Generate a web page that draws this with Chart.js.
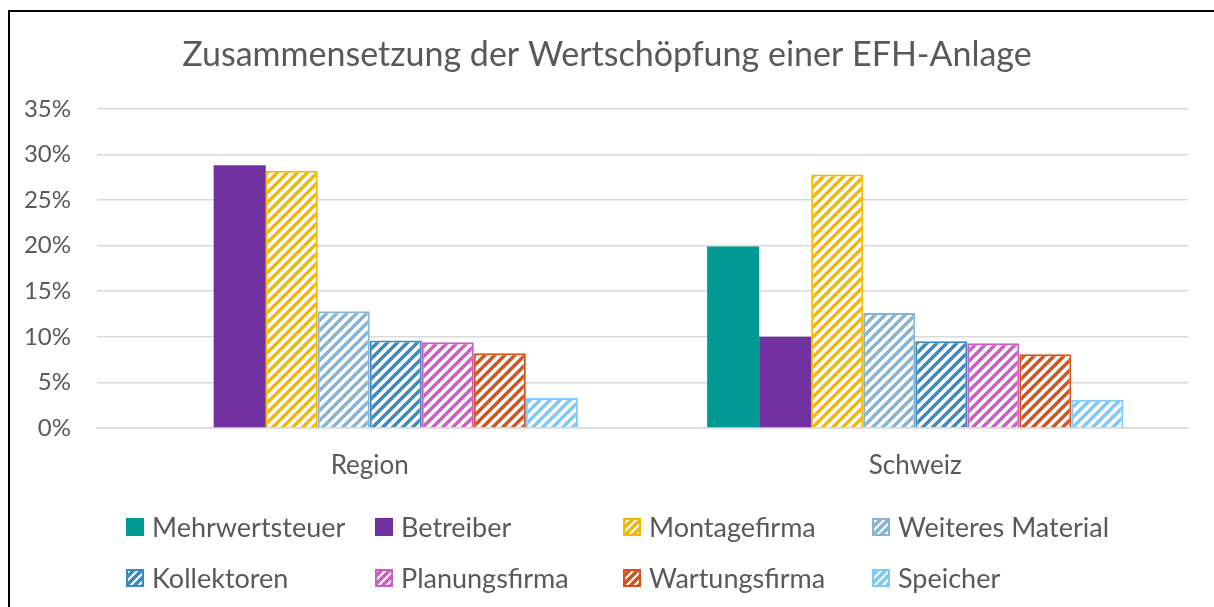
<!DOCTYPE html>
<html><head><meta charset="utf-8">
<script src="https://cdn.jsdelivr.net/npm/chart.js@4.4.1/dist/chart.umd.min.js"></script>
<style>
html,body{margin:0;padding:0;background:#fff;overflow:hidden}
#wrap{position:relative;width:1214px;height:607px;overflow:hidden}
#frame{position:absolute;left:8px;top:10px;width:1400px;height:800px;border-left:2px solid #000;border-top:2px solid #000;pointer-events:none}
canvas{position:absolute;left:0;top:0}
</style></head><body>
<div id="wrap"><canvas id="c" width="1214" height="607"></canvas><div id="frame"></div></div>
<script>
// ---- data ----
const categories = ['Region', 'Schweiz'];
const mehrwertsteuer = [0, 19.9];
const betreiber = [28.8, 10.0];
const montagefirma = [28.2, 27.8];
const weiteresMaterial = [12.8, 12.6];
const kollektoren = [9.6, 9.5];
const planungsfirma = [9.4, 9.3];
const wartungsfirma = [8.2, 8.1];
const speicher = [3.3, 3.1];
const yTickValues = [0, 5, 10, 15, 20, 25, 30, 35];
const titleText = 'Zusammensetzung der Wertschöpfung einer EFH-Anlage';

// ---- styles ----
const FONT = 'Lato';
const TXT = '#595959';
const series = [
  { label: 'Mehrwertsteuer',    data: mehrwertsteuer,   color: '#009994', hatch: false },
  { label: 'Betreiber',         data: betreiber,        color: '#7030A0', hatch: false },
  { label: 'Montagefirma',      data: montagefirma,     color: '#F2B800', hatch: true },
  { label: 'Weiteres Material', data: weiteresMaterial, color: '#86B4D6', hatch: true },
  { label: 'Kollektoren',       data: kollektoren,      color: '#3A89BF', hatch: true },
  { label: 'Planungsfirma',     data: planungsfirma,    color: '#CF5CC6', hatch: true },
  { label: 'Wartungsfirma',     data: wartungsfirma,    color: '#D5531A', hatch: true },
  { label: 'Speicher',          data: speicher,         color: '#7ACAFF', hatch: true }
];

const ctx = document.getElementById('c').getContext('2d');
function hatch(color, s, lw) {
  const c = document.createElement('canvas');
  c.width = c.height = s;
  const g = c.getContext('2d');
  g.fillStyle = '#fff'; g.fillRect(0, 0, s, s);
  g.strokeStyle = color; g.lineWidth = lw; g.lineCap = 'square';
  g.beginPath();
  for (let k = -1; k <= 1; k++) { g.moveTo(k * s, s); g.lineTo(k * s + s, 0); }
  g.stroke();
  return ctx.createPattern(c, 'repeat');
}

const datasets = series.map(s => ({
  label: s.label,
  data: s.data,
  backgroundColor: s.hatch ? hatch(s.color, 10, 3.4) : s.color,
  borderColor: s.color,
  borderWidth: s.hatch ? 2 : 0,
  _legendFill: s.hatch ? hatch(s.color, 8, 3.5) : s.color,
  _color: s.color,
  _hatch: s.hatch,
  categoryPercentage: 0.763,
  barPercentage: 1.0
}));

const legendPlugin = {
  id: 'gridLegend',
  afterDraw(chart) {
    const c = chart.ctx;
    const cols = [126, 375, 623, 872];
    const rows = [527, 578];
    c.save();
    c.font = `27px ${FONT}`;
    c.textBaseline = 'middle';
    c.textAlign = 'left';
    chart.data.datasets.forEach((ds, i) => {
      const x = cols[i % 4], y = rows[Math.floor(i / 4)];
      const bs = 18;
      c.fillStyle = ds._legendFill;
      c.fillRect(x, y - bs / 2, bs, bs);
      if (ds._hatch) {
        c.strokeStyle = ds._color; c.lineWidth = 2;
        c.strokeRect(x + 1, y - bs / 2 + 1, bs - 2, bs - 2);
      }
      c.fillStyle = TXT;
      c.fillText(ds.label, x + 26, y + 1);
    });
    c.restore();
  }
};

new Chart(ctx, {
  type: 'bar',
  data: { labels: categories, datasets },
  plugins: [legendPlugin],
  options: {
    responsive: false,
    animation: false,
    devicePixelRatio: 1,
    layout: { padding: { top: 12, left: 0, right: 0, bottom: 100 } },
    plugins: {
      legend: { display: false },
      tooltip: { enabled: false },
      title: {
        display: true,
        text: titleText,
        color: TXT,
        font: { family: FONT, size: 34, weight: 'normal' },
        padding: { top: 23, bottom: 33 }
      }
    },
    scales: {
      x: {
        grid: { display: false, drawTicks: false },
        border: { display: true, color: '#d9d9d9', width: 1.5 },
        ticks: { color: TXT, font: { family: FONT, size: 26 }, padding: 22 },
        afterFit(scale) { scale.height = 607 - 100 - 428; }
      },
      y: {
        min: 0, max: 35,
        afterBuildTicks(scale) { scale.ticks = yTickValues.map(v => ({ value: v })); },
        grid: { color: '#d9d9d9', lineWidth: 1.5, drawTicks: false },
        border: { display: false },
        ticks: { color: TXT, font: { family: FONT, size: 24 }, padding: 26, callback: v => v + '%' },
        afterFit(scale) { scale.width = 97; }
      },
      yRightSpacer: {
        position: 'right',
        display: true,
        grid: { display: false, drawTicks: false },
        border: { display: false },
        ticks: { display: false },
        afterFit(scale) { scale.width = 26; }
      }
    }
  },
});
</script>
</body></html>
